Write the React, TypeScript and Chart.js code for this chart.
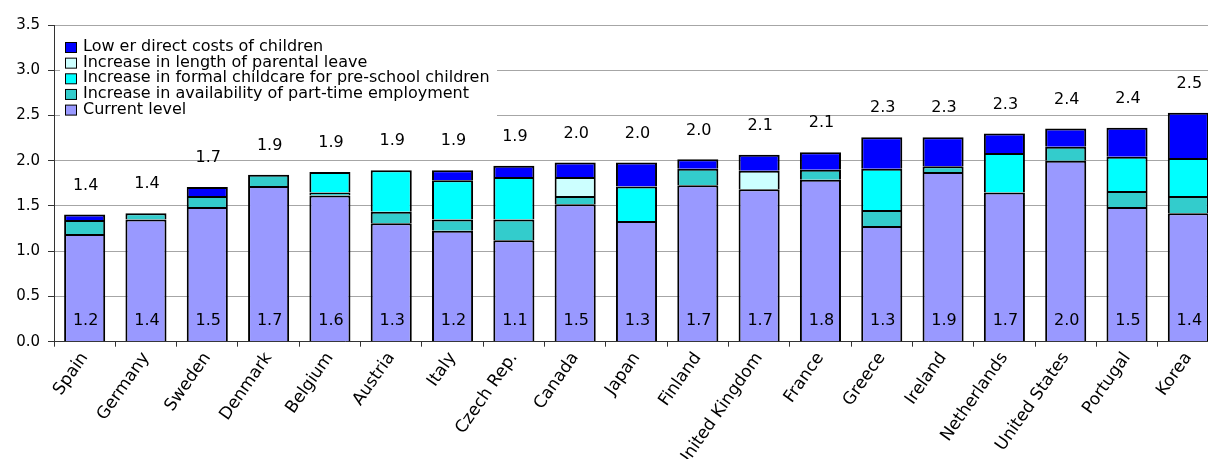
import { useEffect, useRef } from "react";
import { Chart, registerables } from "chart.js";

Chart.register(...registerables);

const categories = [
  "Spain", "Germany", "Sweden", "Denmark", "Belgium", "Austria", "Italy", "Czech Rep.",
  "Canada", "Japan", "Finland", "United Kingdom", "France", "Greece", "Ireland",
  "Netherlands", "United States", "Portugal", "Korea",
];

const currentLevel = [1.19, 1.35, 1.49, 1.72, 1.615, 1.31, 1.225, 1.12, 1.52, 1.335, 1.73, 1.685, 1.79, 1.28, 1.875, 1.65, 2.0, 1.49, 1.42];
const partTime = [0.155, 0.07, 0.12, 0.125, 0.035, 0.125, 0.125, 0.23, 0.09, null, 0.18, null, 0.11, 0.175, 0.065, null, 0.155, 0.175, 0.19];
const childcare = [null, null, null, null, 0.225, 0.46, 0.435, 0.47, null, 0.38, null, null, null, 0.455, null, 0.435, null, 0.38, 0.42];
const parentalLeave = [null, null, null, null, null, null, null, null, 0.21, null, null, 0.205, null, null, null, null, null, null, null];
const directCosts = [0.06, null, 0.1, null, null, null, 0.11, 0.125, 0.16, 0.265, 0.105, 0.175, 0.195, 0.35, 0.32, 0.215, 0.2, 0.32, 0.5];

const totalLabels = ["1.4", "1.4", "1.7", "1.9", "1.9", "1.9", "1.9", "1.9", "2.0", "2.0", "2.0", "2.1", "2.1", "2.3", "2.3", "2.3", "2.4", "2.4", "2.5"];
const currentLabels = ["1.2", "1.4", "1.5", "1.7", "1.6", "1.3", "1.2", "1.1", "1.5", "1.3", "1.7", "1.7", "1.8", "1.3", "1.9", "1.7", "2.0", "1.5", "1.4"];

const yTicks = [0, 0.5, 1.0, 1.5, 2.0, 2.5, 3.0, 3.5];

const seriesNames = [
  "Current level",
  "Increase in availability of part-time employment",
  "Increase in formal childcare for pre-school children",
  "Increase in length of parental leave",
  "Low er direct costs of children",
];
const seriesColors = ["#9999FF", "#33CCCC", "#00FFFF", "#CCFFFF", "#0000FF"];

const FONT = "'DejaVu Sans', sans-serif";

const labelsPlugin = {
  id: "valueLabels",
  afterDatasetsDraw(chart: any) {
    const { ctx } = chart;
    const xs = chart.scales.x;
    const ys = chart.scales.y;
    ctx.save();
    ctx.fillStyle = "#000";
    ctx.font = `16px ${FONT}`;
    ctx.textAlign = "center";
    ctx.textBaseline = "middle";
    const all = [currentLevel, partTime, childcare, parentalLeave, directCosts];
    categories.forEach((_, i) => {
      const total = all.reduce((s, arr) => s + (arr[i] ?? 0), 0);
      const x = xs.getPixelForValue(i) + 1;
      ctx.fillText(totalLabels[i], x, ys.getPixelForValue(total) - 29);
      ctx.fillText(currentLabels[i], x, ys.getPixelForValue(0) - 21);
    });
    ctx.restore();
  },
};

const legendPlugin = {
  id: "boxLegend",
  afterDraw(chart: any) {
    const { ctx } = chart;
    ctx.save();
    ctx.fillStyle = "#fff";
    ctx.fillRect(60, 36, 437, 83);
    ctx.font = `16px ${FONT}`;
    ctx.textAlign = "left";
    ctx.textBaseline = "middle";
    const ds = chart.data.datasets.slice().reverse();
    ds.forEach((d: any, k: number) => {
      const cy = 47 + k * 15.65;
      ctx.fillStyle = d.backgroundColor;
      ctx.fillRect(65.5, cy - 4.5, 11, 10);
      ctx.strokeStyle = "#000";
      ctx.lineWidth = 1;
      ctx.strokeRect(65.5, cy - 4.5, 11, 10);
      ctx.fillStyle = "#000";
      ctx.fillText(d.label, 83, cy);
    });
    ctx.restore();
  },
};

export default function App() {
  const ref = useRef<HTMLCanvasElement | null>(null);

  useEffect(() => {
    document.body.style.overflow = "hidden";
    const canvas = ref.current;
    if (!canvas) return;
    const values = [currentLevel, partTime, childcare, parentalLeave, directCosts];
    const chart = new Chart(canvas, {
      type: "bar",
      data: {
        labels: categories,
        datasets: values.map((v, k) => ({
          label: seriesNames[k],
          data: v,
          backgroundColor: seriesColors[k],
          borderColor: "#000",
          borderWidth: 2,
          borderSkipped: "start",
          barPercentage: 0.67,
          categoryPercentage: 1.0,
        })),
      },
      options: {
        responsive: false,
        animation: false,
        devicePixelRatio: 1,
        layout: { padding: { top: 25, left: 0, right: 0, bottom: 0 } },
        plugins: {
          legend: { display: false },
          tooltip: { enabled: false },
        },
        scales: {
          x: {
            stacked: true,
            offset: true,
            grid: {
              display: true,
              drawOnChartArea: false,
              drawTicks: true,
              tickLength: 5,
              tickColor: "#333",
              offset: true,
            },
            border: { color: "#333", width: 1 },
            ticks: {
              autoSkip: false,
              maxRotation: 55,
              minRotation: 55,
              padding: 2,
              color: "#000",
              font: { family: FONT, size: 17 },
            },
            afterFit: (s: any) => {
              s.height = 117.3;
            },
          },
          y: {
            stacked: true,
            min: 0,
            max: 3.5,
            afterBuildTicks: (s: any) => {
              s.ticks = yTicks.map((v) => ({ value: v }));
            },
            grid: {
              color: "#a6a6a6",
              lineWidth: 1,
              tickLength: 6,
              tickColor: "#333",
            },
            border: { color: "#333", width: 1 },
            ticks: {
              padding: 8,
              color: "#000",
              font: { family: FONT, size: 15 },
              callback: (v: any) => Number(v).toFixed(1),
            },
            afterFit: (s: any) => {
              s.width = 54;
            },
          },
        },
      },
      plugins: [labelsPlugin, legendPlugin],
    });
    return () => chart.destroy();
  }, []);

  return (
    <div style={{ position: "absolute", left: 0, top: 0, width: 1219, height: 459, background: "#fff" }}>
      <canvas ref={ref} width={1219} height={459} style={{ display: "block", width: 1219, height: 459 }} />
    </div>
  );
}
